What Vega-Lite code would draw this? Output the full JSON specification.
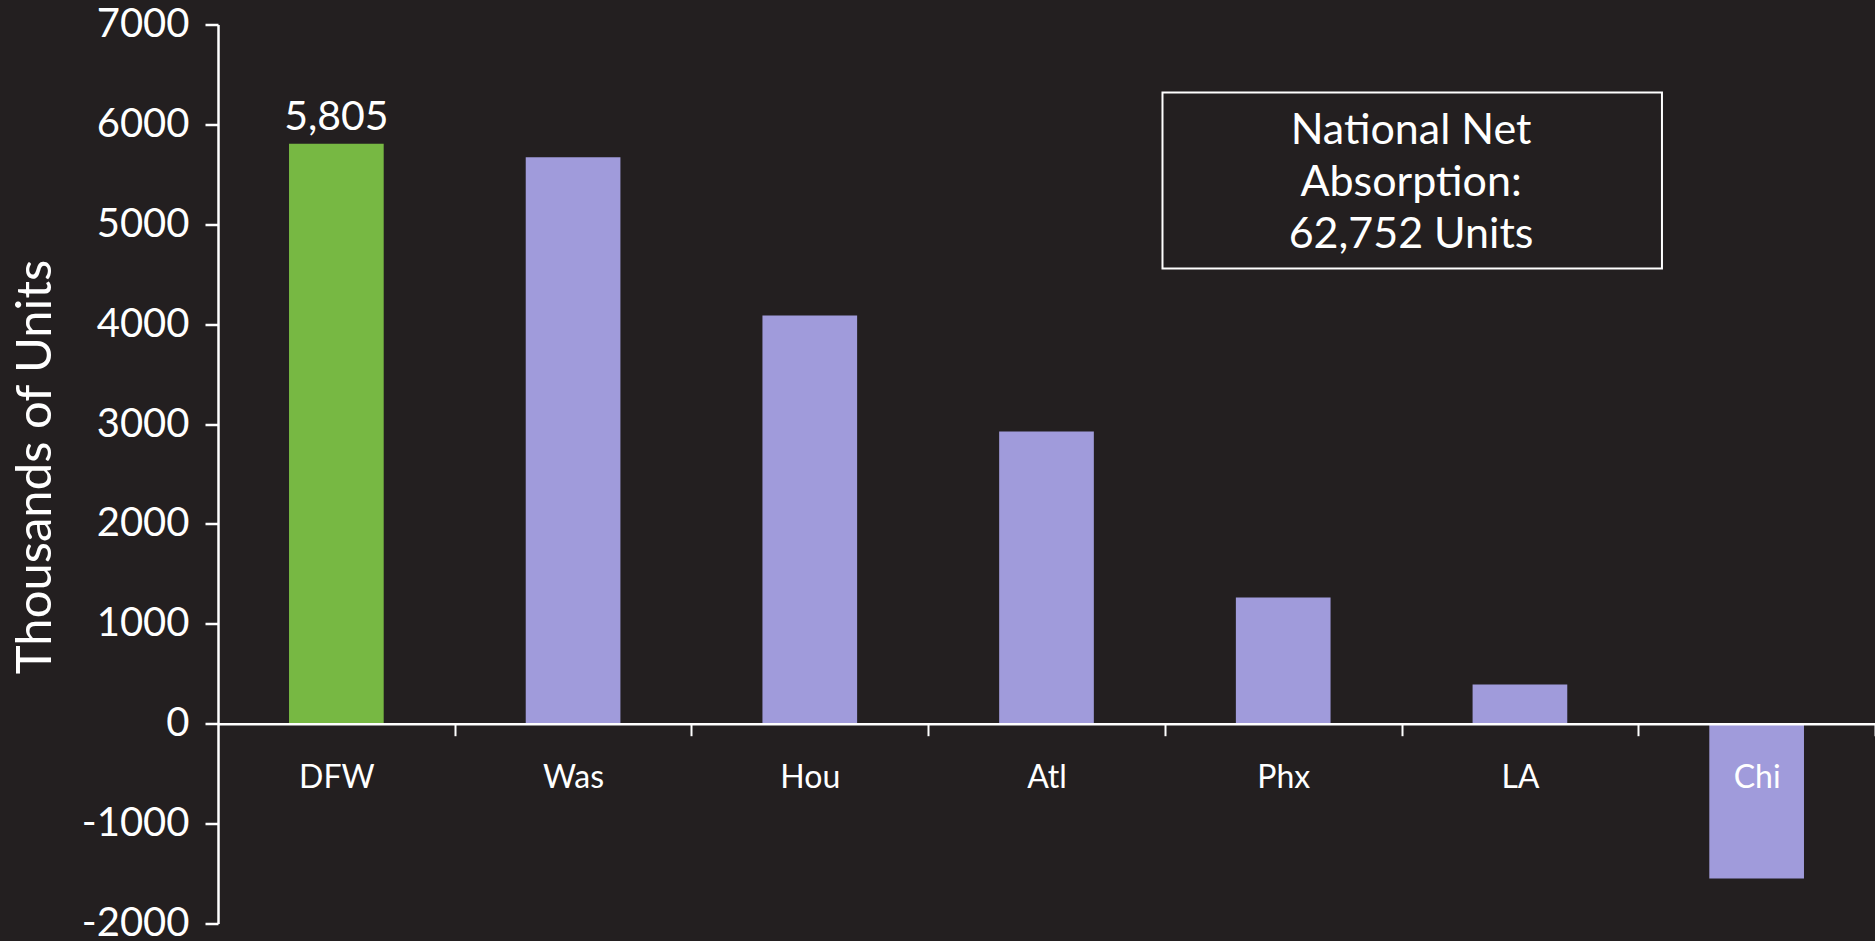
{
  "$schema": "https://vega.github.io/schema/vega-lite/v6.json",
  "autosize": {"type": "none"},
  "padding": {"left": 218, "top": 24.5, "right": 0, "bottom": 17.5},
  "width": 1657,
  "height": 899,
  "background": "#231f20",
  "config": {"view": {"stroke": null}, "font": "Lato"},
  "datasets": {
    "bars": [
      {"city": "DFW", "value": 5805, "highlight": "yes"},
      {"city": "Was", "value": 5670, "highlight": "no"},
      {"city": "Hou", "value": 4088, "highlight": "no"},
      {"city": "Atl", "value": 2926, "highlight": "no"},
      {"city": "Phx", "value": 1264, "highlight": "no"},
      {"city": "LA", "value": 393, "highlight": "no"},
      {"city": "Chi", "value": -1549, "highlight": "no"}
    ],
    "note": [
      {"x0": 3.99, "x1": 6.1, "y0": 4557, "y1": 6319, "xc": 5.04, "yc": 5930, "text": ["National Net", "Absorption:", "62,752 Units"]}
    ]
  },
  "layer": [
    {
      "data": {"name": "bars"},
      "layer": [
        {
          "mark": {"type": "bar"},
          "encoding": {
            "x": {
              "field": "city", "type": "nominal", "sort": null,
              "scale": {"paddingInner": 0.6, "paddingOuter": 0.3},
              "axis": {
                "title": null, "orient": "bottom", "offset": -199.8,
                "domainColor": "white", "domainWidth": 2.5,
                "tickColor": "white", "tickWidth": 2, "tickSize": 12, "tickOffset": 118.4,
                "labelOffset": -118.4,
                "labelColor": "white", "labelFont": "Lato", "labelFontSize": 32,
                "labelPadding": 27, "labelAngle": 0, "zindex": 1
              }
            },
            "y": {
              "field": "value", "type": "quantitative",
              "scale": {"domain": [-2000, 7000], "nice": false},
              "axis": {
                "title": "Thousands of Units",
                "values": [-2000, -1000, 0, 1000, 2000, 3000, 4000, 5000, 6000, 7000],
                "labelExpr": "datum.value + ''",
                "grid": false,
                "domainColor": "white", "domainWidth": 2.5,
                "tickColor": "white", "tickWidth": 2.5, "tickSize": 13,
                "labelColor": "white", "labelFont": "Lato", "labelFontSize": 40, "labelPadding": 16,
                "titleColor": "white", "titleFont": "Lato", "titleFontSize": 49, "titleFontWeight": "normal",
                "titlePadding": 21, "titleY": 442, "zindex": 1
              }
            },
            "color": {
              "field": "highlight", "type": "nominal",
              "scale": {"domain": ["yes", "no"], "range": ["#77b843", "#a09bdb"]},
              "legend": null
            }
          }
        },
        {
          "transform": [{"filter": "datum.city === 'DFW'"}],
          "mark": {"type": "text", "color": "white", "font": "Lato", "fontSize": 41, "baseline": "alphabetic", "dy": -14},
          "encoding": {
            "x": {"field": "city", "type": "nominal", "sort": null},
            "y": {"field": "value", "type": "quantitative", "scale": {"domain": [-2000, 7000], "nice": false}},
            "text": {"field": "value", "type": "quantitative", "format": ","}
          }
        }
      ]
    },
    {
      "data": {"name": "note"},
      "mark": {"type": "rect", "fill": null, "fillOpacity": 0, "stroke": "white", "strokeWidth": 2},
      "encoding": {
        "x": {"field": "x0", "type": "quantitative", "scale": {"domain": [0, 7], "nice": false, "zero": false}, "axis": null},
        "x2": {"field": "x1"},
        "y": {"field": "y0", "type": "quantitative", "scale": {"domain": [-2000, 7000], "nice": false}},
        "y2": {"field": "y1"}
      }
    },
    {
      "data": {"name": "note"},
      "mark": {"type": "text", "color": "white", "font": "Lato", "fontSize": 43, "align": "center", "baseline": "middle", "lineHeight": 52},
      "encoding": {
        "x": {"field": "xc", "type": "quantitative", "scale": {"domain": [0, 7], "nice": false, "zero": false}, "axis": null},
        "y": {"field": "yc", "type": "quantitative", "scale": {"domain": [-2000, 7000], "nice": false}},
        "text": {"field": "text"}
      }
    }
  ],
  "resolve": {"scale": {"x": "independent"}}
}
